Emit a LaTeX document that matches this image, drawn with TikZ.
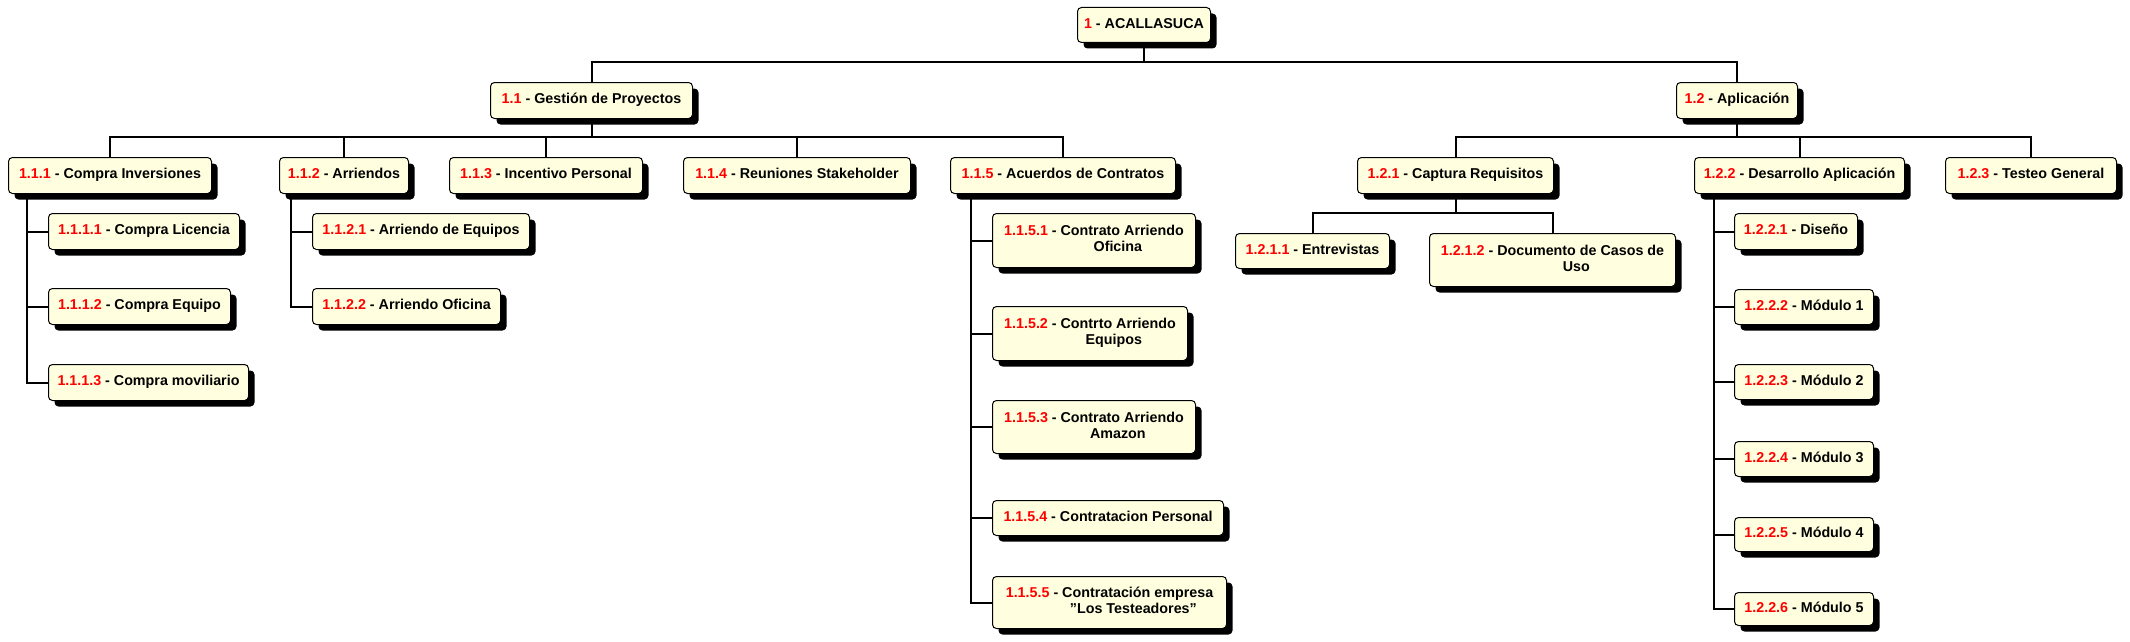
\documentclass[tikz,border=0pt]{standalone}
\usepackage{fontspec}
\setmainfont{Liberation Sans}
\usetikzlibrary{shadows}
\definecolor{boxfill}{RGB}{255,255,224}
\definecolor{numred}{RGB}{255,0,0}
\newcommand\wnum[1]{\textcolor{numred}{#1}}
\newcommand\wl[2]{\strut\wnum{#1} #2}
\newcommand\wtwo[3]{\wnum{#1} \begin{tabular}[t]{@{}c@{}}#2\\#3\end{tabular}}
\begin{document}
\begin{tikzpicture}[x=1pt,y=-1pt,
  wbsbox/.style={draw=black, line width=1pt, fill=boxfill, rounded corners=4pt,
    anchor=north west, inner xsep=2pt, inner ysep=0pt,
    font=\bfseries\fontsize{14.3}{16}\selectfont,
    general shadow={fill=black, shadow xshift=6pt, shadow yshift=-6pt}},
  link/.style={draw=black, line width=2pt}]
\fill[white] (0,0) rectangle (2130,642);
\useasboundingbox (0,0) rectangle (2130,642);

% level 0 and 1
\node[wbsbox, minimum width=133pt, minimum height=35pt] (r) at (1077,7) {\wl{1}{- ACALLASUCA}};
\node[wbsbox, minimum width=202pt, minimum height=36pt] (a) at (490,82) {\wl{1.1}{- Gestión de Proyectos}};
\node[wbsbox, minimum width=121pt, minimum height=36pt] (b) at (1676,82) {\wl{1.2}{- Aplicación}};

% level 2
\node[wbsbox, minimum width=203pt, minimum height=36pt] (a1) at (8,157) {\wl{1.1.1}{- Compra Inversiones}};
\node[wbsbox, minimum width=129pt, minimum height=36pt] (a2) at (279,157) {\wl{1.1.2}{- Arriendos}};
\node[wbsbox, minimum width=193pt, minimum height=36pt] (a3) at (449,157) {\wl{1.1.3}{- Incentivo Personal}};
\node[wbsbox, minimum width=227pt, minimum height=36pt] (a4) at (683,157) {\wl{1.1.4}{- Reuniones Stakeholder}};
\node[wbsbox, minimum width=225pt, minimum height=36pt] (a5) at (950,157) {\wl{1.1.5}{- Acuerdos de Contratos}};
\node[wbsbox, minimum width=196pt, minimum height=36pt] (b1) at (1357,157) {\wl{1.2.1}{- Captura Requisitos}};
\node[wbsbox, minimum width=210pt, minimum height=36pt] (b2) at (1694,157) {\wl{1.2.2}{- Desarrollo Aplicación}};
\node[wbsbox, minimum width=171pt, minimum height=36pt] (b3) at (1945,157) {\wl{1.2.3}{- Testeo General}};

% level 3
\node[wbsbox, minimum width=191pt, minimum height=36pt] (a11) at (48,213) {\wl{1.1.1.1}{- Compra Licencia}};
\node[wbsbox, minimum width=182pt, minimum height=36pt] (a12) at (48,288) {\wl{1.1.1.2}{- Compra Equipo}};
\node[wbsbox, minimum width=200pt, minimum height=36pt] (a13) at (48,364) {\wl{1.1.1.3}{- Compra moviliario}};

\node[wbsbox, minimum width=217pt, minimum height=36pt] (a21) at (312,213) {\wl{1.1.2.1}{- Arriendo de Equipos}};
\node[wbsbox, minimum width=188pt, minimum height=36pt] (a22) at (312,288) {\wl{1.1.2.2}{- Arriendo Oficina}};

\node[wbsbox, minimum width=203pt, minimum height=54pt] (a51) at (992,213) {\wtwo{1.1.5.1}{- Contrato Arriendo}{Oficina}};
\node[wbsbox, minimum width=195pt, minimum height=54pt] (a52) at (992,306) {\wtwo{1.1.5.2}{- Contrto Arriendo}{Equipos}};
\node[wbsbox, minimum width=203pt, minimum height=53pt] (a53) at (992,400) {\wtwo{1.1.5.3}{- Contrato Arriendo}{Amazon}};
\node[wbsbox, minimum width=231pt, minimum height=35pt] (a54) at (992,500) {\wl{1.1.5.4}{- Contratacion Personal}};
\node[wbsbox, minimum width=234pt, minimum height=52pt] (a55) at (992,576) {\wtwo{1.1.5.5}{- Contratación empresa}{"Los Testeadores"}};

\node[wbsbox, minimum width=154pt, minimum height=35pt] (b11) at (1235,233) {\wl{1.2.1.1}{- Entrevistas}};
\node[wbsbox, minimum width=246pt, minimum height=53pt] (b12) at (1429,233) {\wtwo{1.2.1.2}{- Documento de Casos de}{Uso}};

\node[wbsbox, minimum width=123pt, minimum height=36pt] (b21) at (1734,213) {\wl{1.2.2.1}{- Diseño}};
\node[wbsbox, minimum width=139pt, minimum height=35pt] (b22) at (1734,289) {\wl{1.2.2.2}{- Módulo 1}};
\node[wbsbox, minimum width=139pt, minimum height=35pt] (b23) at (1734,364) {\wl{1.2.2.3}{- Módulo 2}};
\node[wbsbox, minimum width=139pt, minimum height=35pt] (b24) at (1734,441) {\wl{1.2.2.4}{- Módulo 3}};
\node[wbsbox, minimum width=139pt, minimum height=34pt] (b25) at (1734,517) {\wl{1.2.2.5}{- Módulo 4}};
\node[wbsbox, minimum width=139pt, minimum height=33pt] (b26) at (1734,592) {\wl{1.2.2.6}{- Módulo 5}};

% connectors
\coordinate (rbus) at (r.south |- 0,62);
\draw[link] (r.south) -- (rbus) -| (a.north);
\draw[link] (rbus) -| (b.north);

\coordinate (abus) at (a.south |- 0,137);
\draw[link] (a.south) -- (abus);
\foreach \c in {a1,a2,a3,a4,a5} \draw[link] (abus) -| (\c.north);

\coordinate (bbus) at (b.south |- 0,137);
\draw[link] (b.south) -- (bbus);
\foreach \c in {b1,b2,b3} \draw[link] (bbus) -| (\c.north);

\foreach \c in {a11,a12,a13} \draw[link] (a1.south -| 27,0) |- (\c.west);
\foreach \c in {a21,a22} \draw[link] (a2.south -| 291,0) |- (\c.west);
\foreach \c in {a51,a52,a53,a54,a55} \draw[link] (a5.south -| 971,0) |- (\c.west);
\foreach \c in {b21,b22,b23,b24,b25,b26} \draw[link] (b2.south -| 1714,0) |- (\c.west);

\coordinate (b1bus) at (b1.south |- 0,213);
\draw[link] (b1.south) -- (b1bus);
\draw[link] (b1bus) -| (b11.north);
\draw[link] (b1bus) -| (b12.north);
\end{tikzpicture}
\end{document}
